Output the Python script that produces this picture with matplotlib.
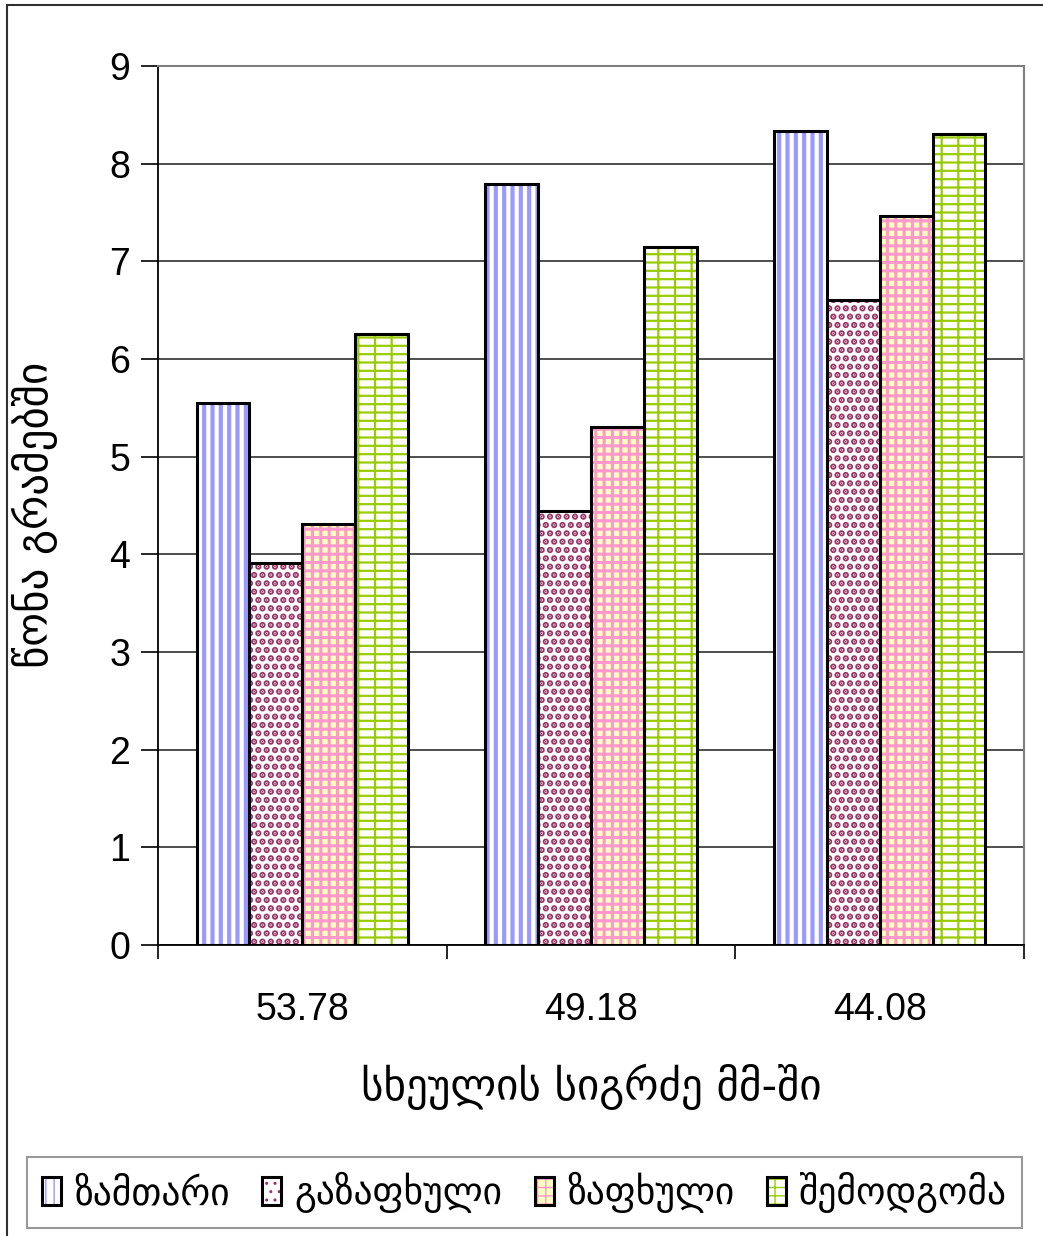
import numpy as np
import matplotlib as mpl
import matplotlib.pyplot as plt
from matplotlib.patches import Rectangle

groups = ['53.78', '49.18', '44.08']
series = ['ზამთარი', 'გაზაფხული', 'ზაფხული', 'შემოდგომა']
zamtari = [5.55, 7.79, 8.33]
gazapxuli = [3.91, 4.44, 6.60]
zapxuli = [4.31, 5.30, 7.46]
shemodgoma = [6.26, 7.15, 8.30]
yticks = [0, 1, 2, 3, 4, 5, 6, 7, 8, 9]

values = [zamtari, gazapxuli, zapxuli, shemodgoma]
# face colour, hatch colour, hatch, hatch linewidth
styles = [
    ('white', '#9999FF', '||', 3.0),
    ('white', '#993366', '..', 3.2),
    ('#FFFFC0', '#FF99CC', '++', 2.2),
    ('white', '#99CC00', '--|', 1.6),
]

geo = ['DejaVu Sans']
num = ['Liberation Sans', 'DejaVu Sans']

fig = plt.figure(figsize=(10.43, 12.36), dpi=100)
ax = fig.add_axes([158/1043, 1-945/1236, (1024-158)/1043, (945-66)/1236])

x = np.arange(len(groups))
w = 0.733 / 4
handles = []
for i, vals in enumerate(values):
    fc, hc, hatch, hlw = styles[i]
    pos = x + (i - 1.5) * w
    with mpl.rc_context({'hatch.linewidth': hlw}):
        hb = ax.bar(pos, vals, w, color=fc, edgecolor=hc, hatch=hatch, linewidth=0, zorder=2)
    for p in hb:
        if hasattr(p, 'set_hatch_linewidth'):
            p.set_hatch_linewidth(hlw)
    ob = ax.bar(pos, vals, w, fill=False, edgecolor='black', linewidth=2.2, zorder=3)
    handles.append((hb[0], ob[0]))

ax.set_xlim(-0.5, 2.5)
ax.set_ylim(0, 9)
ax.set_yticks(yticks)
ax.set_yticklabels([str(t) for t in yticks], family=num, fontsize=27)
ax.set_xticks(x)
ax.set_xticklabels(groups, family=num, fontsize=27)
ax.set_xticks([-0.5, 0.5, 1.5, 2.5], minor=True)
ax.tick_params(axis='x', which='major', length=0, pad=34)
ax.tick_params(axis='x', which='minor', length=10, width=1.2, direction='out')
ax.tick_params(axis='y', length=12, width=1.2, direction='out', pad=8)

ax.yaxis.grid(True, color='#404040', linewidth=1.3, zorder=0)
ax.set_axisbelow(True)
for s in ['top', 'right']:
    ax.spines[s].set_color('#808080')
    ax.spines[s].set_linewidth(1.5)
for s in ['left', 'bottom']:
    ax.spines[s].set_color('black')
    ax.spines[s].set_linewidth(1.3)

ax.set_ylabel('წონა გრამებში', family=geo, fontsize=31)
ax.yaxis.set_label_coords((35-158)/866, (945-515)/879)
ax.set_xlabel('სხეულის სიგრძე მმ-ში', family=geo, fontsize=31)
ax.xaxis.set_label_coords(0.5, (945-1087)/879)
ax.xaxis.label.set_va('center')
ax.yaxis.label.set_va('center')

leg = fig.legend(handles, series, ncol=4, loc='lower left',
                 bbox_to_anchor=(27/1043, 1-1228/1236, 995/1043, 70/1236), mode='expand',
                 prop={'family': geo, 'size': 27}, frameon=True, fancybox=False,
                 edgecolor='#808080', handlelength=0.5, handleheight=0.8,
                 handletextpad=0.35, columnspacing=0.5, borderpad=0.4, borderaxespad=0)
leg.get_frame().set_linewidth(1.5)

fig.patches.append(Rectangle((7/1043, -0.01), 1.0, 1-5/1236 + 0.01, transform=fig.transFigure,
                             fill=False, edgecolor='#303030', linewidth=1.5))

fig.savefig('out.png', dpi=100)
